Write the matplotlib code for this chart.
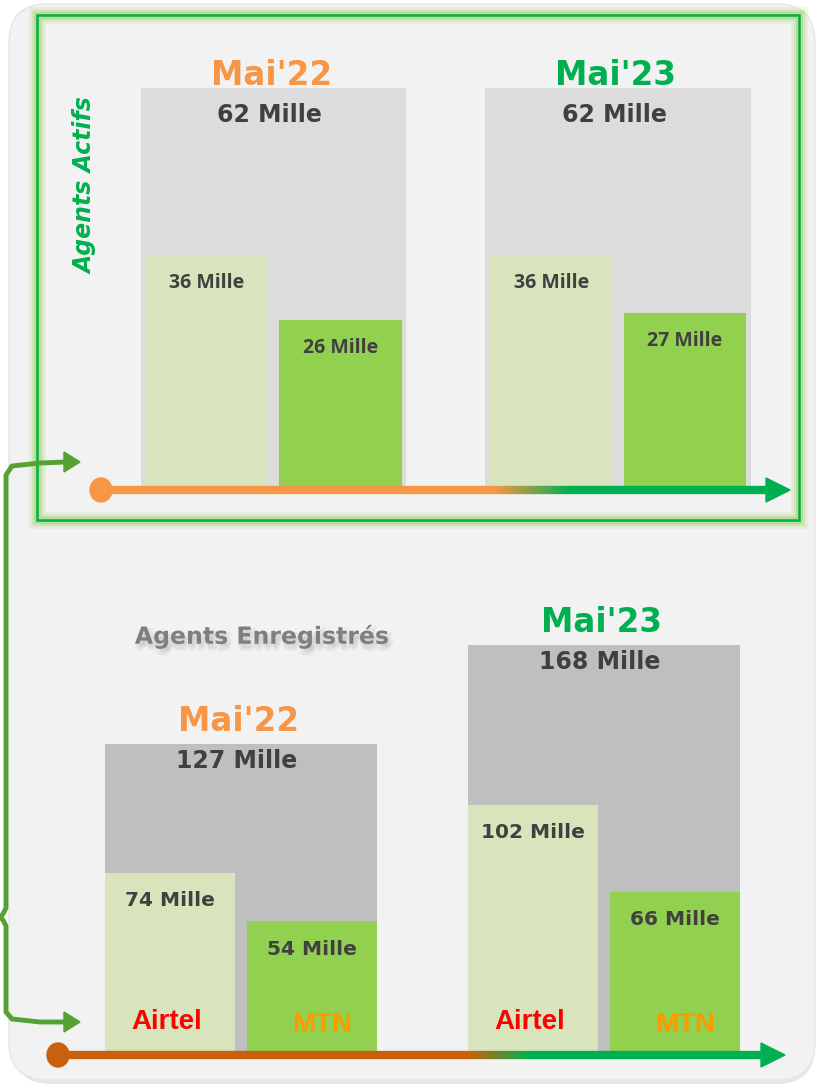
import matplotlib
matplotlib.use("Agg")
import matplotlib.pyplot as plt
import matplotlib.patheffects as pe
import numpy as np
from matplotlib.collections import LineCollection
from matplotlib.colors import to_rgb
from matplotlib.patches import FancyBboxPatch, Rectangle, Ellipse, Polygon

# --- data -------------------------------------------------------------
periods = ["Mai'22", "Mai'23"]
period_colors = ["#F79646", "#00B050"]

actifs_total = [62, 62]
actifs_airtel = [36, 36]
actifs_mtn = [26, 27]

enreg_total = [127, 168]
enreg_airtel = [74, 102]
enreg_mtn = [54, 66]

operators = ["Airtel", "MTN"]
operator_colors = ["#FF0000", "#FF9900"]

C_AIRTEL = "#D8E4BC"
C_MTN = "#92D050"
C_TXT = "#404040"

W, H = 820, 1088
fig = plt.figure(figsize=(W / 100, H / 100), dpi=100)
fig.patch.set_facecolor("white")

# background / decoration layer in pixel coords
bg = fig.add_axes([0, 0, 1, 1], zorder=0)
bg.set_xlim(0, W)
bg.set_ylim(H, 0)
bg.axis("off")

shadow = FancyBboxPatch((13, 9), 802, 1075, boxstyle="round,pad=0,rounding_size=38",
                        fc="#D6D6D6", ec="none", alpha=0.6)
bg.add_patch(shadow)
panel = FancyBboxPatch((9, 4), 806, 1076, boxstyle="round,pad=0,rounding_size=38",
                       fc="#F2F2F2", ec="#E6E6E6", lw=1)
bg.add_patch(panel)

# glowing green frame of the top panel
for lw, a in [(12, 0.15), (8, 0.25), (5, 0.35)]:
    bg.add_patch(Rectangle((37, 15), 762, 505, fill=False, ec="#92D050", lw=lw, alpha=a))
bg.add_patch(Rectangle((37, 15), 762, 505, fill=False, ec="#00B050", lw=1.8))

bg.text(86, 186, "Agents Actifs", rotation=90, ha="center", va="center",
        fontsize=17, fontweight="bold", style="italic", color="#00B050",
        family="DejaVu Sans")
glow = [pe.SimplePatchShadow(offset=(dx, dy), shadow_rgbFace="#A0A0A0", alpha=0.12)
        for dx, dy in [(1, -2), (3, -3), (2, -5), (4, -1), (0, -4)]]
bg.text(262, 636, "Agents Enregistrés", ha="center", va="center",
        fontsize=17, fontweight="bold", color="#7F7F7F", family="DejaVu Sans",
        path_effects=glow + [pe.Normal()])


def draw_panel(ax, totals, airtel, mtn, total_w, off, bar_w, gray, tot_dy, head_dy,
               inner_font, inner_size, show_ops):
    x = np.arange(len(periods))
    ax.bar(x, totals, width=total_w, color=gray, zorder=1)
    ax.bar(x - off, airtel, width=bar_w, color=C_AIRTEL, zorder=2)
    ax.bar(x + off, mtn, width=bar_w, color=C_MTN, zorder=2)
    for i in range(len(periods)):
        ax.annotate(periods[i], xy=(x[i], totals[i]), xytext=(-2, head_dy),
                    textcoords="offset pixels", ha="center", va="bottom",
                    fontsize=23.5, fontweight="bold", color=period_colors[i],
                    family="DejaVu Sans", zorder=0)
        ax.annotate(f"{totals[i]} Mille", xy=(x[i], totals[i]), xytext=(-4, tot_dy),
                    textcoords="offset pixels", ha="center", va="center",
                    fontsize=17, fontweight="bold", color=C_TXT, family="DejaVu Sans", zorder=3)
        ax.annotate(f"{airtel[i]} Mille", xy=(x[i] - off, airtel[i]), xytext=(0, -28),
                    textcoords="offset pixels", ha="center", va="center",
                    fontsize=inner_size, fontweight="bold", color=C_TXT, family=inner_font, zorder=3)
        ax.annotate(f"{mtn[i]} Mille", xy=(x[i] + off, mtn[i]), xytext=(0, -28),
                    textcoords="offset pixels", ha="center", va="center",
                    fontsize=inner_size, fontweight="bold", color=C_TXT, family=inner_font, zorder=3)
        if show_ops:
            ax.annotate(operators[0], xy=(x[i] - off, 0), xytext=(-3, 30),
                        textcoords="offset pixels", ha="center", va="center",
                        fontsize=20, fontweight="bold", color=operator_colors[0],
                        family="Liberation Sans", zorder=3)
            ax.annotate(operators[1], xy=(x[i] + off, 0), xytext=(10, 27),
                        textcoords="offset pixels", ha="center", va="center",
                        fontsize=20, fontweight="bold", color=operator_colors[1],
                        family="Liberation Sans", zorder=3)
    ax.axis("off")


# top panel: Agents Actifs
ax1 = fig.add_axes([0, (H - 487) / H, 1, 487 / H], zorder=1)
ax1.patch.set_alpha(0)
ax1.set_xlim(-273.5 / 344.5, (W - 273.5) / 344.5)
ax1.set_ylim(0, 487 / 6.435)
draw_panel(ax1, actifs_total, actifs_airtel, actifs_mtn, 0.77, 0.194, 0.356,
           "#DCDCDC", -27, -4, "Open Sans", 14, False)

# bottom panel: Agents Enregistrés
ax2 = fig.add_axes([0, 36 / H, 1, 512 / H], zorder=1)
ax2.patch.set_alpha(0)
ax2.set_xlim(-241 / 363, (W - 241) / 363)
ax2.set_ylim(0, 512 / 2.425)
draw_panel(ax2, enreg_total, enreg_airtel, enreg_mtn, 0.749, 0.196, 0.358,
           "#BFBFBF", -17, 6, "DejaVu Sans", 14.5, True)

# foreground layer: timelines and bracket
fg = fig.add_axes([0, 0, 1, 1], zorder=2)
fg.patch.set_alpha(0)
fg.set_xlim(0, W)
fg.set_ylim(H, 0)
fg.axis("off")


def timeline(y, x0, x1, c0, c1, t0, t1):
    xs = np.linspace(x0, x1 - 18, 300)
    a, b = np.array(to_rgb(c0)), np.array(to_rgb(c1))
    segs, cols = [], []
    for i in range(len(xs) - 1):
        xm = 0.5 * (xs[i] + xs[i + 1])
        f = np.clip((xm - t0) / (t1 - t0), 0, 1)
        segs.append([(xs[i], y), (xs[i + 1], y)])
        cols.append(a * (1 - f) + b * f)
    fg.add_collection(LineCollection(segs, colors=cols, linewidths=6, capstyle="butt"))
    fg.add_patch(Ellipse((x0, y), 22, 24, color=c0))
    fg.add_patch(Polygon([(x1 - 24, y - 12), (x1, y), (x1 - 24, y + 12)], color=c1))


timeline(490, 101, 790, "#F79646", "#00B050", 495, 570)
timeline(1055, 58, 785, "#C8600E", "#00B050", 470, 530)

gc = "#56A133"
brace_x = [66, 40, 12, 6, 6, 3, 0, 3, 6, 6, 12, 40, 66]
brace_y = [462, 463, 466, 475, 908, 914, 917, 920, 926, 1012, 1019, 1022, 1022]
fg.plot(brace_x, brace_y, color=gc, lw=3.5, solid_capstyle="butt",
        solid_joinstyle="round")
fg.add_patch(Polygon([(64, 452), (80, 462), (64, 472)], color=gc))
fg.add_patch(Polygon([(64, 1012), (80, 1022), (64, 1032)], color=gc))

fig.savefig("out.png", dpi=100)
